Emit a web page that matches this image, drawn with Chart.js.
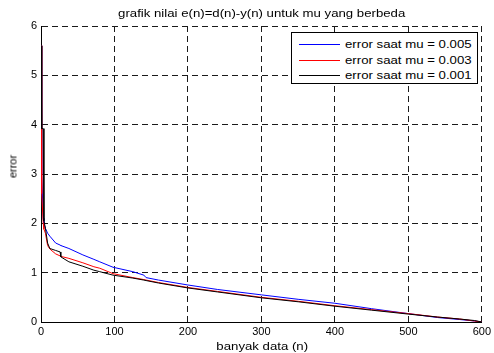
<!DOCTYPE html>
<html>
<head>
<meta charset="utf-8">
<script src="https://cdn.jsdelivr.net/npm/chart.js@4/dist/chart.umd.min.js"></script>
<style>
    body { margin:0; background:#fff; }
    #wrap { position:relative; width:494px; height:353px; background:#fff; font-family:"Liberation Sans", Arial, sans-serif; color:#000; }
    #wrap canvas { position:absolute; left:0; top:0; }
    .stretch { display:inline-block; transform:scaleX(1.2); white-space:nowrap; }
    #title { position:absolute; left:41px; width:442px; top:7px; text-align:center; font-size:11px; line-height:13px; }
    #xTitle { position:absolute; left:41px; width:442px; top:340px; text-align:center; font-size:11px; line-height:13px; }
    #yTitle { position:absolute; left:-7px; top:160px; width:40px; text-align:center; font-size:11px; line-height:13px; transform:rotate(-90deg); }
    #legend { position:absolute; left:291px; top:32px; width:185px; height:50px; border:1px solid #000; background:#fff; }
    .row { position:absolute; left:0; height:14px; }
    .row .ln { position:absolute; left:7px; top:7px; width:41px; height:1px; }
    .row .tx { position:absolute; left:53px; top:0; font-size:11px; line-height:14px; transform-origin:left center; }
</style>
</head>
<body>
<div id="wrap">
    <canvas id="errChart" width="494" height="353"></canvas>
    <div id="title"><span class="stretch">grafik nilai e(n)=d(n)-y(n) untuk mu yang berbeda</span></div>
    <div id="xTitle"><span class="stretch">banyak data (n)</span></div>
    <div id="yTitle">error</div>
    <div id="legend"></div>
</div>
<script>
// iterasi (sumbu x)
const nData = [0, 1, 3, 4, 6, 9, 12, 20, 26, 27, 38, 57, 72, 80, 98, 125, 140, 143, 160, 200, 240, 300, 350, 400, 450, 500, 540, 570, 590, 600];
// error untuk tiap mu
const errMu005 = [5.6, 3.0, 2.1, 2.0, 1.9, 1.8, 1.74, 1.6, 1.56, 1.55, 1.49, 1.36, 1.27, 1.22, 1.11, 1.02, 0.95, 0.9, 0.85, 0.75, 0.66, 0.55, 0.46, 0.38, 0.27, 0.17, 0.09, 0.05, 0.02, 0];
const errMu003 = [5.6, 2.6, 2.0, 1.88, 1.8, 1.55, 1.48, 1.38, 1.34, 1.33, 1.29, 1.2, 1.12, 1.09, 0.98, 0.9, 0.86, 0.85, 0.8, 0.7, 0.62, 0.5, 0.42, 0.33, 0.25, 0.17, 0.1, 0.06, 0.02, 0];
const errMu001 = [5.6, 3.92, 3.92, 2.05, 1.9, 1.6, 1.49, 1.45, 1.42, 1.32, 1.22, 1.13, 1.05, 1.02, 0.95, 0.89, 0.85, 0.84, 0.79, 0.69, 0.61, 0.49, 0.41, 0.32, 0.24, 0.16, 0.1, 0.06, 0.03, 0];
const seriesLabels = ['error saat mu = 0.005', 'error saat mu = 0.003', 'error saat mu = 0.001'];
const seriesColors = ['#0000ff', '#ff0000', '#000000'];
const xTicks = [0, 100, 200, 300, 400, 500, 600];
const yTicks = [0, 1, 2, 3, 4, 5, 6];

const toPoints = ys => ys.map((y, i) => ({ x: nData[i], y }));
const allSeries = [errMu005, errMu003, errMu001];

// legenda
document.getElementById('legend').innerHTML = seriesLabels.map((lbl, i) => `
    <div class="row" style="top:${4 + i * 15.5}px;width:185px;">
        <div class="ln" style="background:${seriesColors[i]};"></div>
        <div class="tx stretch">${lbl}</div>
    </div>`).join('');

const tickFont = { family: '"Liberation Sans", Arial, sans-serif', size: 11 };

new Chart(document.getElementById('errChart'), {
    type: 'line',
    data: {
        datasets: allSeries.map((ys, i) => ({
            label: seriesLabels[i],
            data: toPoints(ys),
            borderColor: seriesColors[i],
            backgroundColor: seriesColors[i],
            borderWidth: 1,
            pointRadius: 0,
            tension: 0,
            fill: false,
            order: 3 - i
        }))
    },
    options: {
        responsive: false,
        animation: false,
        layout: { padding: { top: 26, right: 11, left: 0, bottom: 0 } },
        plugins: { legend: { display: false }, tooltip: { enabled: false }, title: { display: false } },
        scales: {
            x: {
                type: 'linear', min: 0, max: 600,
                afterBuildTicks: s => { s.ticks = xTicks.map(v => ({ value: v })); },
                afterFit: s => { s.height = 31; },
                ticks: { color: '#000', font: tickFont, padding: 3, maxRotation: 0 },
                grid: { color: '#1a1a1a', lineWidth: 1, drawTicks: false },
                border: { display: true, color: '#000', width: 1, dash: [6, 4] }
            },
            y: {
                type: 'linear', min: 0, max: 6,
                afterBuildTicks: s => { s.ticks = yTicks.map(v => ({ value: v })); },
                afterFit: s => { s.width = 41; },
                ticks: { color: '#000', font: tickFont, padding: 4 },
                grid: { color: '#1a1a1a', lineWidth: 1, drawTicks: false },
                border: { display: true, color: '#000', width: 1, dash: [6, 4] }
            }
        }
    }
});
</script>
</body>
</html>
